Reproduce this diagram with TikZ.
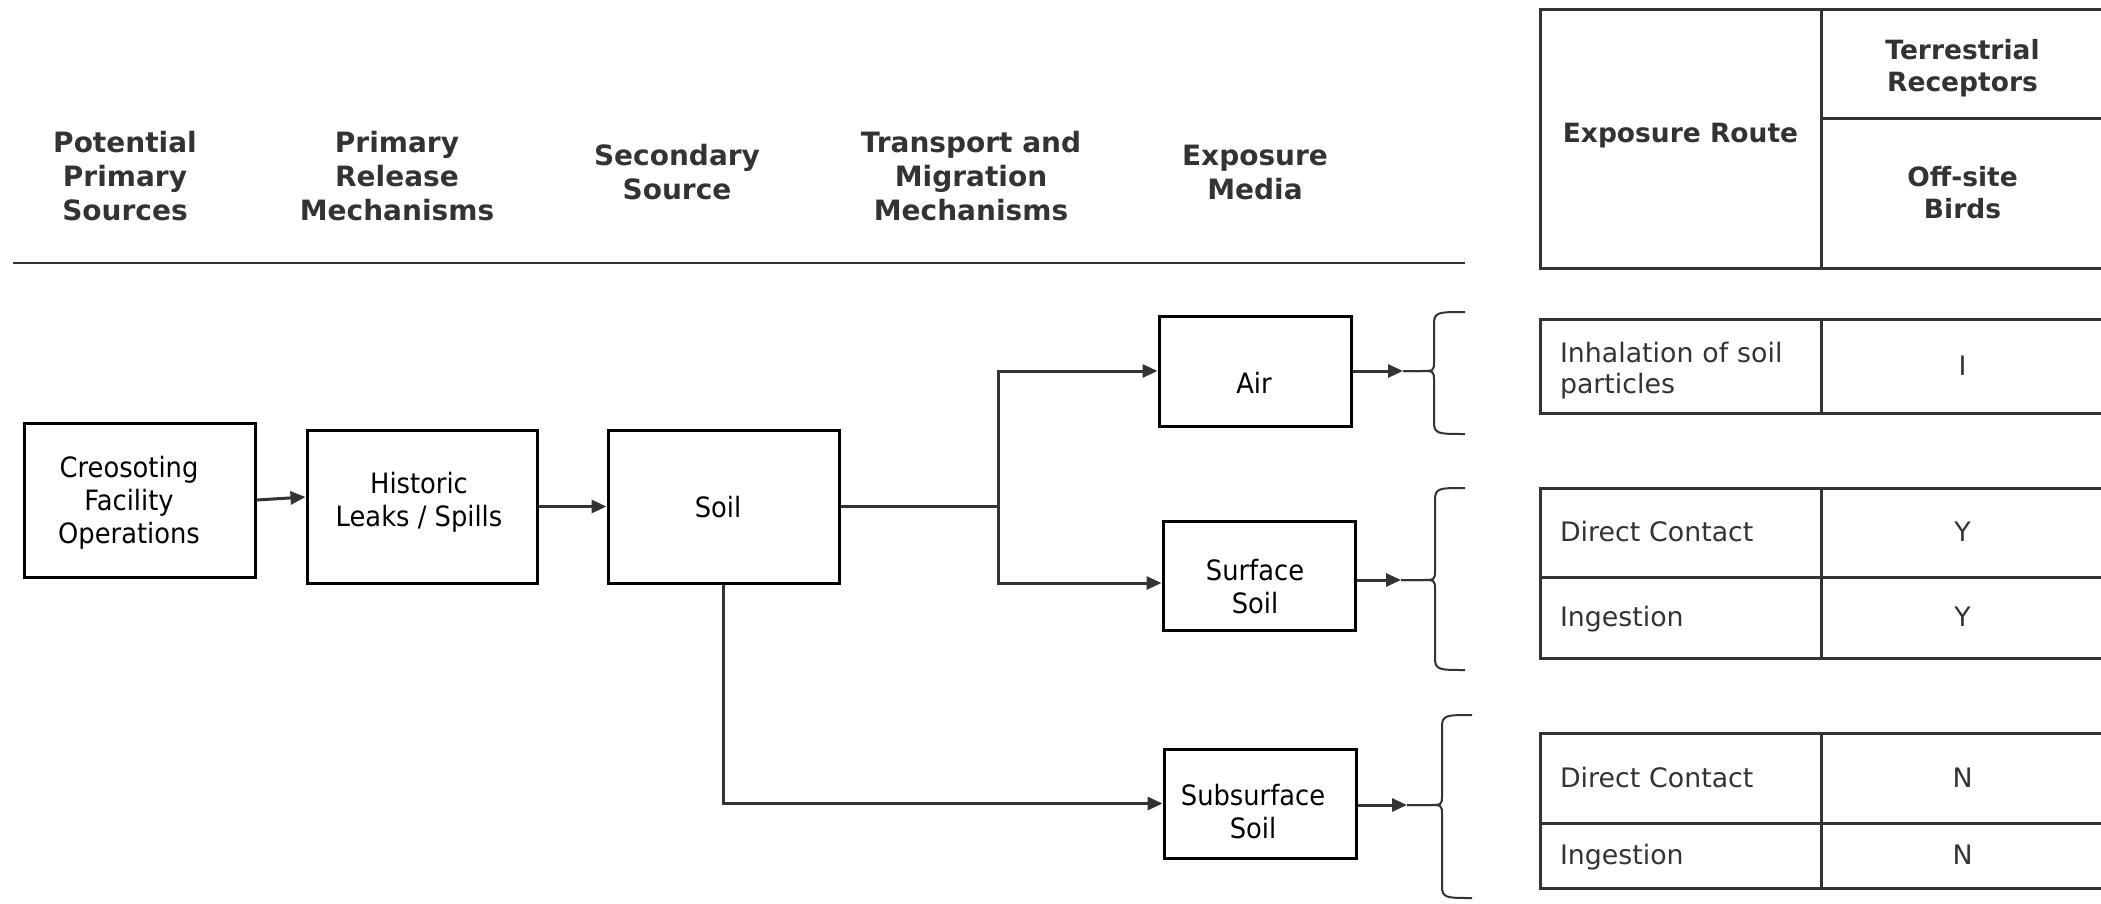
\documentclass[tikz,border=0pt]{standalone}
\usepackage{fontspec}
\setmainfont{DejaVu Sans}
\newfontfamily\boxfont{DejaVu Sans}[FakeStretch=0.92]
\usetikzlibrary{arrows.meta}
\definecolor{lc}{HTML}{333333}
\definecolor{tc}{HTML}{333333}
\newcommand\curlybrace[6]{%
  \draw[brc] (#6,#4) .. controls ({#3+4},{#4}) and ({#3},{#4}) .. ({#3},{#4+12}) -- ({#3},{#2-10}) .. controls ({#3},{#2}) .. ({#3-14},{#2}) -- (#1,#2);
  \draw[brc] (#1,#2) -- ({#3-14},{#2}) .. controls ({#3},{#2}) .. ({#3},{#2+10}) -- ({#3},{#5-12}) .. controls ({#3},{#5}) and ({#3+4},{#5}) .. (#6,#5);}
\begin{document}
\begin{tikzpicture}[x=1pt,y=-1pt,
  hdr/.style={text=tc, font=\fontsize{28}{34}\selectfont\bfseries, align=center, inner sep=0pt},
  box/.style={draw=black, line width=3pt, inner sep=0pt},
  boxtxt/.style={text=black, font=\boxfont\fontsize{28}{33}\selectfont, align=center, inner sep=0pt},
  ln/.style={draw=lc, line width=3pt},
  arr/.style={ln, -{Triangle[length=15pt,width=13pt]}},
  brc/.style={draw=lc, line width=2pt},
  cell/.style={draw=lc, line width=3pt, inner sep=0pt, outer sep=0pt, text=tc, anchor=north west},
  hcell/.style={cell, font=\fontsize{26.5}{32}\selectfont\bfseries, align=center},
  lcell/.style={cell, font=\fontsize{26.8}{31}\selectfont, minimum width=281pt, text width=241pt, inner xsep=20pt, align=left},
  rcell/.style={cell, font=\fontsize{26.8}{31}\selectfont, minimum width=283pt, align=center},
  oneline/.style={text height=19pt, text depth=1pt}]
\useasboundingbox (0,0) rectangle (2101,903);
\clip (0,0) rectangle (2101,903);

% column headers
\node[hdr] (h1) at (125,176) {Potential\\Primary\\Sources};
\node[hdr] (h2) at (397,176) {Primary\\Release\\Mechanisms};
\node[hdr] (h3) at (677,172) {Secondary\\Source};
\node[hdr] (h4) at (971,176) {Transport and\\Migration\\Mechanisms};
\node[hdr] (h5) at (1255,172) {Exposure\\Media};
\coordinate (r1) at (13,263);
\coordinate (r2) at (1465,263);
\draw[draw=lc, line width=2.5pt] (r1) -- (r2);

% boxes
\node[box, minimum width=231pt, minimum height=154pt] (cre) at (139.5,500) {};
\node[boxtxt] (cre-t) at (129,503) {Creosoting\\Facility\\Operations};
\node[box, minimum width=230pt, minimum height=153pt] (hist) at (422,506.5) {};
\node[boxtxt] (hist-t) at (419,502) {Historic\\Leaks / Spills};
\node[box, minimum width=231pt, minimum height=153pt] (soil) at (723.5,506.5) {};
\node[boxtxt] (soil-t) at (718,507.5) {Soil};
\node[box, minimum width=192pt, minimum height=110pt] (air) at (1255,371) {};
\node[boxtxt] (air-t) at (1254,382.5) {Air};
\node[box, minimum width=192pt, minimum height=109pt] (surf) at (1259,575.5) {};
\node[boxtxt] (surf-t) at (1255,586.5) {Surface\\Soil};
\node[box, minimum width=192pt, minimum height=109pt] (sub) at (1260,803.5) {};
\node[boxtxt] (sub-t) at (1253,811.5) {Subsurface\\Soil};

% connectors
\draw[arr] (cre.east) -- ([yshift=9.5pt]hist.west);
\draw[arr] (hist.east) -- (soil.west);
\coordinate (j) at (998,506.5);
\draw[ln] (soil.east) -- (j);
\draw[arr] (j) |- (air.west);
\draw[arr] (j) |- ([yshift=-7.5pt]surf.west);
\draw[arr] (soil.south) |- (sub.west);

% braces
\coordinate (cA) at (1403,371);
\coordinate (cB) at (1401,580);
\coordinate (cC) at (1407,805);
\draw[arr] (air.east) -- (cA);
\draw[arr] (surf.east |- cB) -- (cB);
\draw[arr] (sub.east |- cC) -- (cC);
\curlybrace{1403}{371}{1434}{312}{434}{1465}
\curlybrace{1401}{580}{1435}{488}{670}{1465}
\curlybrace{1407}{805}{1442}{715}{898}{1472}

% table header
\node[hcell, minimum width=281pt, minimum height=259pt, text height=19pt, text depth=11.4pt] (eh) at (1540,9) {Exposure Route};
\node[hcell, minimum width=283pt, minimum height=109pt] (th) at (1821,9) {\rule{0pt}{29pt}Terrestrial\\Receptors};
\node[hcell, minimum width=283pt, minimum height=150pt] (bh) at (1821,118) {Off-site\\Birds};

% table rows
\node[lcell, minimum height=94pt] (a1) at (1540,319) {\rule{0pt}{30pt}Inhalation of soil\\particles};
\node[rcell, oneline, minimum height=94pt] (a2) at (1821,319) {I};
\node[lcell, oneline, minimum height=89pt] (b1) at (1540,488) {Direct Contact};
\node[rcell, oneline, minimum height=89pt] (b2) at (1821,488) {Y};
\node[lcell, oneline, minimum height=81pt] (b3) at (1540,577) {Ingestion};
\node[rcell, oneline, minimum height=81pt] (b4) at (1821,577) {Y};
\node[lcell, oneline, minimum height=90pt] (c1) at (1540,733) {Direct Contact};
\node[rcell, oneline, minimum height=90pt] (c2) at (1821,733) {N};
\node[lcell, oneline, minimum height=65pt] (c3) at (1540,823) {Ingestion};
\node[rcell, oneline, minimum height=65pt] (c4) at (1821,823) {N};
\end{tikzpicture}
\end{document}
